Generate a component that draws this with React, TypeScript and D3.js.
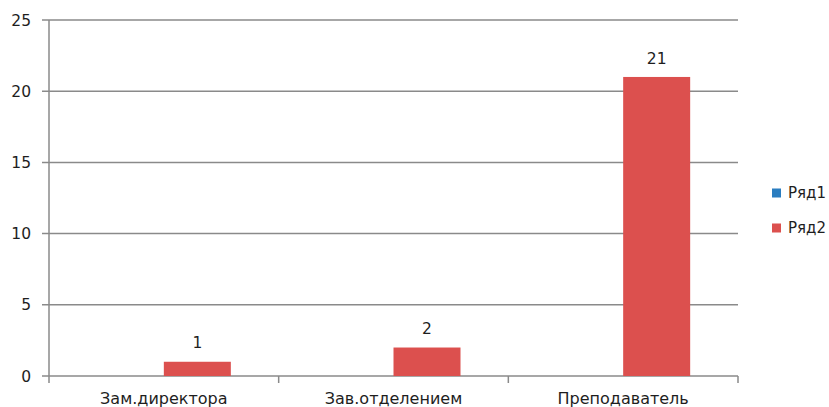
import React from "react";
import * as d3 from "d3";

const categories = ["Зам.директора", "Зав.отделением", "Преподаватель"];
const series1 = [0, 0, 0];
const series2 = [1, 2, 21];
const seriesNames = ["Ряд1", "Ряд2"];
const yTicks = [0, 5, 10, 15, 20, 25];

const W = 829;
const H = 407;
const left = 49;
const right = 738;
const top = 20;
const bottom = 376;
const colors = ["#2a7dc0", "#dc504e"];
const gridColor = "#8a8a8a";
const textColor = "#1e1e1e";
const font = "'DejaVu Sans', Verdana, sans-serif";

export default function App() {
  const y = d3.scaleLinear().domain([0, 25]).range([bottom, top]);
  const x0 = d3.scaleBand().domain(categories).range([left, right]).paddingInner(0).paddingOuter(0);
  const bw = x0.bandwidth();
  const barW = 67;
  const x1 = d3.scaleBand().domain(seriesNames).range([bw / 2 - barW, bw / 2 + barW]);
  const series = [series1, series2];

  return (
    <svg width={W} height={H} style={{ position: "absolute", left: 0, top: 0, background: "#fff" }}>
      {yTicks.map((t) => (
        <g key={t}>
          <line x1={42} x2={right} y1={y(t)} y2={y(t)} stroke={gridColor} strokeWidth={1.5} />
          <text x={31} y={y(t)} dy="0.36em" textAnchor="end" fontFamily={font} fontSize={15.5} fill={textColor}>
            {t}
          </text>
        </g>
      ))}
      <line x1={left} x2={left} y1={top} y2={bottom} stroke={gridColor} strokeWidth={1.5} />
      {[...categories.map((c) => x0(c)!), right].map((xv, i) => (
        <line key={i} x1={xv} x2={xv} y1={bottom} y2={bottom + 7} stroke={gridColor} strokeWidth={1.5} />
      ))}
      {categories.map((c, i) => (
        <g key={c} transform={`translate(${x0(c)},0)`}>
          {series.map((s, j) => {
            const v = s[i];
            if (v === 0) return null;
            const bx = x1(seriesNames[j])!;
            return (
              <g key={j}>
                <rect x={bx} y={y(v)} width={x1.bandwidth()} height={bottom - y(v)} fill={colors[j]} />
                <text
                  x={bx + x1.bandwidth() / 2}
                  y={y(v) - 19}
                  dy="0.36em"
                  textAnchor="middle"
                  fontFamily={font}
                  fontSize={15.5}
                  fill={textColor}
                >
                  {v}
                </text>
              </g>
            );
          })}
          <text x={bw / 2} y={404} textAnchor="middle" fontFamily={font} fontSize={16} fill={textColor}>
            {c}
          </text>
        </g>
      ))}
      {seriesNames.map((n, j) => (
        <g key={n} transform={`translate(772,${193 + j * 35})`}>
          <rect x={0} y={-4.5} width={9} height={9} fill={colors[j]} />
          <text x={16} y={0} dy="0.36em" fontFamily={font} fontSize={15} fill={textColor}>
            {n}
          </text>
        </g>
      ))}
    </svg>
  );
}
